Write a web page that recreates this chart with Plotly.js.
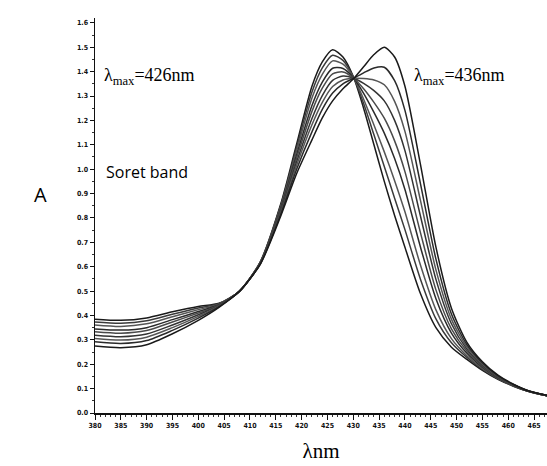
<!DOCTYPE html>
<html>
<head>
<meta charset="utf-8">
<script src="https://cdn.plot.ly/plotly-3.0.1.min.js"></script>
<style>html,body{margin:0;padding:0;background:#fff;}#chart{width:547px;height:466px;}</style>
</head>
<body>
<div id="chart"></div>
<script>
// Wavelengths (nm)
const wavelength = [380,385,390,395,400,404,408,412,416,419,422,424,426,428,430,432,434,436,438,440,443,446,449,452,455,458,461,464,468];

// Absorbance spectra, from λmax 426 nm to λmax 436 nm
const spectrum1 = [0.385,0.380,0.390,0.415,0.437,0.450,0.500,0.620,0.860,1.100,1.340,1.440,1.490,1.460,1.380,1.250,1.100,0.950,0.810,0.680,0.490,0.350,0.270,0.220,0.175,0.138,0.110,0.088,0.068];
const spectrum2 = [0.373,0.368,0.378,0.405,0.431,0.448,0.500,0.619,0.855,1.087,1.316,1.415,1.467,1.446,1.379,1.269,1.141,1.011,0.881,0.752,0.549,0.386,0.288,0.228,0.179,0.140,0.111,0.088,0.068];
const spectrum3 = [0.361,0.355,0.366,0.395,0.424,0.446,0.500,0.618,0.849,1.074,1.292,1.389,1.444,1.431,1.378,1.287,1.181,1.071,0.953,0.825,0.607,0.423,0.305,0.235,0.183,0.142,0.112,0.088,0.068];
const spectrum4 = [0.345,0.340,0.350,0.383,0.416,0.444,0.500,0.616,0.842,1.057,1.261,1.357,1.414,1.413,1.376,1.311,1.233,1.148,1.044,0.917,0.681,0.469,0.328,0.245,0.188,0.144,0.113,0.089,0.069];
const spectrum5 = [0.333,0.327,0.338,0.373,0.410,0.442,0.500,0.615,0.837,1.044,1.237,1.332,1.391,1.399,1.375,1.330,1.274,1.209,1.116,0.990,0.740,0.505,0.345,0.253,0.191,0.146,0.114,0.089,0.069];
const spectrum6 = [0.319,0.313,0.324,0.361,0.403,0.440,0.500,0.614,0.830,1.028,1.208,1.302,1.364,1.382,1.374,1.352,1.322,1.280,1.200,1.076,0.808,0.548,0.366,0.262,0.196,0.148,0.115,0.089,0.069];
const spectrum7 = [0.306,0.299,0.311,0.350,0.396,0.438,0.500,0.613,0.824,1.014,1.182,1.274,1.339,1.366,1.373,1.372,1.366,1.346,1.278,1.155,0.872,0.587,0.385,0.270,0.200,0.150,0.116,0.090,0.069];
const spectrum8 = [0.292,0.285,0.297,0.339,0.389,0.436,0.500,0.612,0.818,0.998,1.153,1.245,1.312,1.350,1.372,1.395,1.415,1.418,1.363,1.241,0.941,0.631,0.406,0.280,0.205,0.152,0.117,0.090,0.070];
const spectrum9 = [0.275,0.268,0.280,0.325,0.380,0.433,0.500,0.610,0.810,0.980,1.120,1.210,1.280,1.330,1.370,1.420,1.470,1.500,1.460,1.340,1.020,0.680,0.430,0.290,0.210,0.155,0.118,0.090,0.070];

const spectra = [spectrum1,spectrum2,spectrum3,spectrum4,spectrum5,spectrum6,spectrum7,spectrum8,spectrum9];
const lineColors = ['#1a1a1a','#3a3a3a','#555555','#2a2a2a','#4a4a4a','#333333','#555555','#2a2a2a','#1a1a1a'];

const xTickVals = [380,385,390,395,400,405,410,415,420,425,430,435,440,445,450,455,460,465];
const yTickVals = [0.0,0.1,0.2,0.3,0.4,0.5,0.6,0.7,0.8,0.9,1.0,1.1,1.2,1.3,1.4,1.5,1.6];

const traces = spectra.map((s, i) => ({
  x: wavelength, y: s, type: 'scatter', mode: 'lines',
  line: {color: lineColors[i], width: 1.5, shape: 'spline', smoothing: 0.7},
  showlegend: false, hoverinfo: 'skip'
}));

const tickFont = {family: '"Liberation Sans Narrow", "DejaVu Sans Condensed", "Liberation Sans", sans-serif', size: 7, color: '#111', weight: 'bold'};

const layout = {
  width: 547, height: 466,
  margin: {l: 95, r: 0, t: 18, b: 53},
  paper_bgcolor: '#fff', plot_bgcolor: '#fff',
  showlegend: false,
  xaxis: {
    range: [380, 467.5], tickvals: xTickVals, ticktext: xTickVals.map(String),
    showgrid: false, zeroline: false, showline: true, linecolor: '#111', linewidth: 1.5,
    ticks: 'outside', ticklen: 5, tickwidth: 1, tickcolor: '#111',
    minor: {dtick: 1, ticks: 'outside', ticklen: 2, tickcolor: '#333', showgrid: false},
    tickfont: tickFont,
    title: {text: 'λnm', font: {family: '"Liberation Serif", "Times New Roman", serif', size: 21, color: '#000'}, standoff: 14}
  },
  yaxis: {
    range: [0, 1.62], tickvals: yTickVals, ticktext: yTickVals.map(v => v.toFixed(1)),
    showgrid: false, zeroline: false, showline: true, linecolor: '#111', linewidth: 1.5,
    ticks: 'outside', ticklen: 4, tickwidth: 1, tickcolor: '#111',
    minor: {dtick: 0.05, ticks: 'outside', ticklen: 2, tickcolor: '#333', showgrid: false},
    tickfont: tickFont
  },
  annotations: [
    {xref: 'x', yref: 'y', x: 381.3, y: 1.38, xanchor: 'left', yanchor: 'middle', showarrow: false,
     text: 'λ<sub>max</sub>=426nm', font: {family: '"Liberation Serif", "Times New Roman", serif', size: 18, color: '#000'}},
    {xref: 'x', yref: 'y', x: 441.4, y: 1.38, xanchor: 'left', yanchor: 'middle', showarrow: false,
     text: 'λ<sub>max</sub>=436nm', font: {family: '"Liberation Serif", "Times New Roman", serif', size: 18, color: '#000'}},
    {xref: 'x', yref: 'y', x: 381.8, y: 0.99, xanchor: 'left', yanchor: 'middle', showarrow: false,
     text: 'Soret band', font: {family: '"Open Sans", "Liberation Sans", sans-serif', size: 16, color: '#000'}},
    {xref: 'paper', yref: 'paper', x: -0.12, y: 0.552, xanchor: 'center', yanchor: 'middle', showarrow: false,
     text: 'A', font: {family: '"Open Sans", "Liberation Sans", sans-serif', size: 20, color: '#000'}}
  ]
};

Plotly.newPlot('chart', traces, layout, {displayModeBar: false, staticPlot: true});
</script>
</body>
</html>
